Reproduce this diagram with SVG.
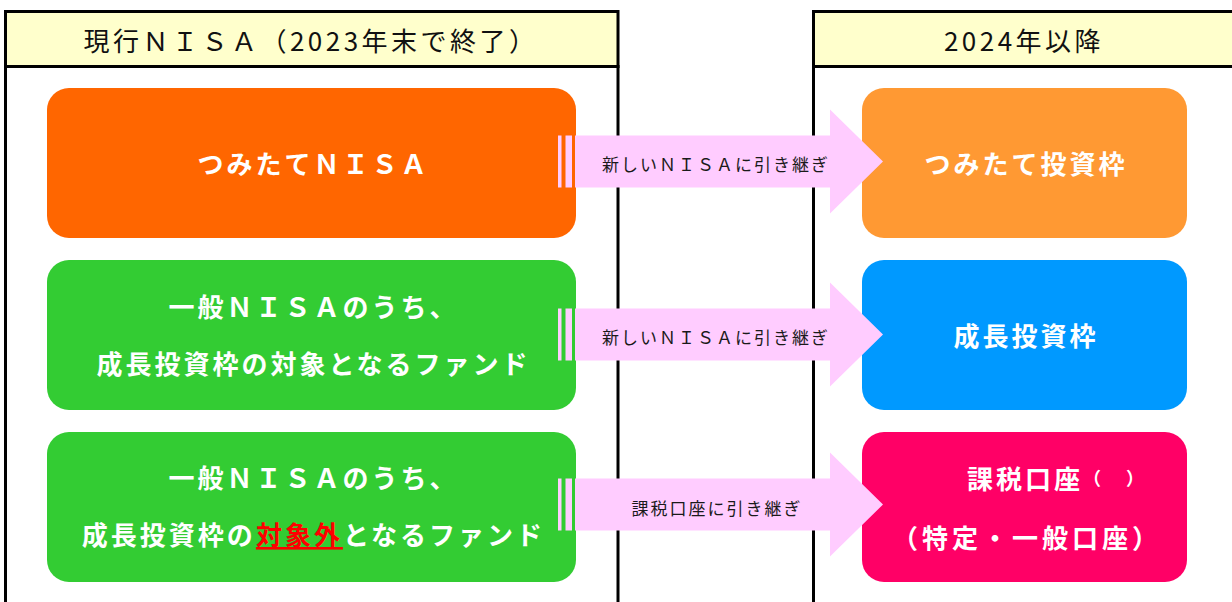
<svg xmlns="http://www.w3.org/2000/svg" width="1232" height="602" viewBox="0 0 1232 602">
<defs>
<style>
.frame{fill:#FFFFFF;stroke:#000;stroke-width:3}
.head{fill:#FFFFCC;stroke:#000;stroke-width:3}
.ht{font-family:"Noto Sans CJK JP","Noto Sans",sans-serif;font-size:26px;fill:#111;letter-spacing:3.5px;dominant-baseline:central}
.bt{font-family:"Noto Sans CJK JP","Noto Sans",sans-serif;font-size:26px;font-weight:bold;fill:#FFFFFF;letter-spacing:3px;dominant-baseline:central}
.at{font-family:"Noto Sans CJK JP","Noto Sans",sans-serif;font-size:17px;fill:#1a1a1a;letter-spacing:2px;dominant-baseline:central;text-anchor:middle}
.arrow{fill:#FFCCFF}
.red{fill:#FF0000;text-decoration:underline}
</style>
</defs>
<g id="frame-left">
<rect class="frame" x="5.5" y="66.5" width="612.5" height="600"/>
<rect class="head" x="5.5" y="11.5" width="612.5" height="55"/>
<text class="ht" x="311" y="39" text-anchor="middle">現行ＮＩＳＡ（2023年末で終了）</text>
</g>
<g id="frame-right">
<rect class="frame" x="813.5" y="66.5" width="500" height="600"/>
<rect class="head" x="813.5" y="11.5" width="500" height="55"/>
<text class="ht" x="1024" y="39" text-anchor="middle">2024年以降</text>
</g>
<g id="tsumitate-nisa">
<rect x="47" y="88" width="529" height="150" rx="22" fill="#FF6600"/>
<text class="bt" x="313.5" y="162" text-anchor="middle">つみたてＮＩＳＡ</text>
</g>
<g id="ippan-growth">
<rect x="47" y="260" width="529" height="150" rx="22" fill="#33CC33"/>
<text class="bt" x="313.5" y="305" text-anchor="middle">一般ＮＩＳＡのうち、</text>
<text class="bt" x="313.5" y="362" text-anchor="middle">成長投資枠の対象となるファンド</text>
</g>
<g id="ippan-nongrowth">
<rect x="47" y="432" width="529" height="150" rx="22" fill="#33CC33"/>
<text class="bt" x="313.5" y="476" text-anchor="middle">一般ＮＩＳＡのうち、</text>
<text class="bt" x="313.5" y="533" text-anchor="middle">成長投資枠の<tspan class="red">対象外</tspan>となるファンド</text>
</g>
<g id="tsumitate-waku">
<rect x="862" y="88" width="325" height="150" rx="22" fill="#FF9933"/>
<text class="bt" x="1026" y="162" text-anchor="middle">つみたて投資枠</text>
</g>
<g id="seicho-waku">
<rect x="862" y="260" width="325" height="150" rx="22" fill="#0099FF"/>
<text class="bt" x="1026" y="334" text-anchor="middle">成長投資枠</text>
</g>
<g id="kazei-koza">
<rect x="862" y="432" width="325" height="150" rx="22" fill="#FF0066"/>
<text class="bt" x="967" y="477">課税口座<tspan style="font-size:18px;font-weight:bold;letter-spacing:0px">（</tspan><tspan x="1126" style="font-size:18px;font-weight:bold;letter-spacing:0px">）</tspan></text>
<text class="bt" x="1027" y="536" text-anchor="middle" style="letter-spacing:4px">（特定・一般口座）</text>
</g>
<g id="connectors">
<g id="arrow-1">
<rect class="arrow" x="558" y="135.5" width="3.5" height="52"/>
<rect class="arrow" x="565.5" y="135.5" width="6.5" height="52"/>
<path class="arrow" d="M575,135.5 H830 V109.5 L883,161.5 L830,213.5 V187.5 H575 Z"/>
<text class="at" x="716" y="163">新しいＮＩＳＡに引き継ぎ</text>
</g>
<g id="arrow-2">
<rect class="arrow" x="558" y="308.5" width="3.5" height="52"/>
<rect class="arrow" x="565.5" y="308.5" width="6.5" height="52"/>
<path class="arrow" d="M575,308.5 H830 V282.5 L883,334.5 L830,386.5 V360.5 H575 Z"/>
<text class="at" x="716" y="336">新しいＮＩＳＡに引き継ぎ</text>
</g>
<g id="arrow-3">
<rect class="arrow" x="558" y="478.5" width="3.5" height="52"/>
<rect class="arrow" x="565.5" y="478.5" width="6.5" height="52"/>
<path class="arrow" d="M575,478.5 H830 V452.5 L883,504.5 L830,556.5 V530.5 H575 Z"/>
<text class="at" x="717" y="507">課税口座に引き継ぎ</text>
</g>
</g>
</svg>
